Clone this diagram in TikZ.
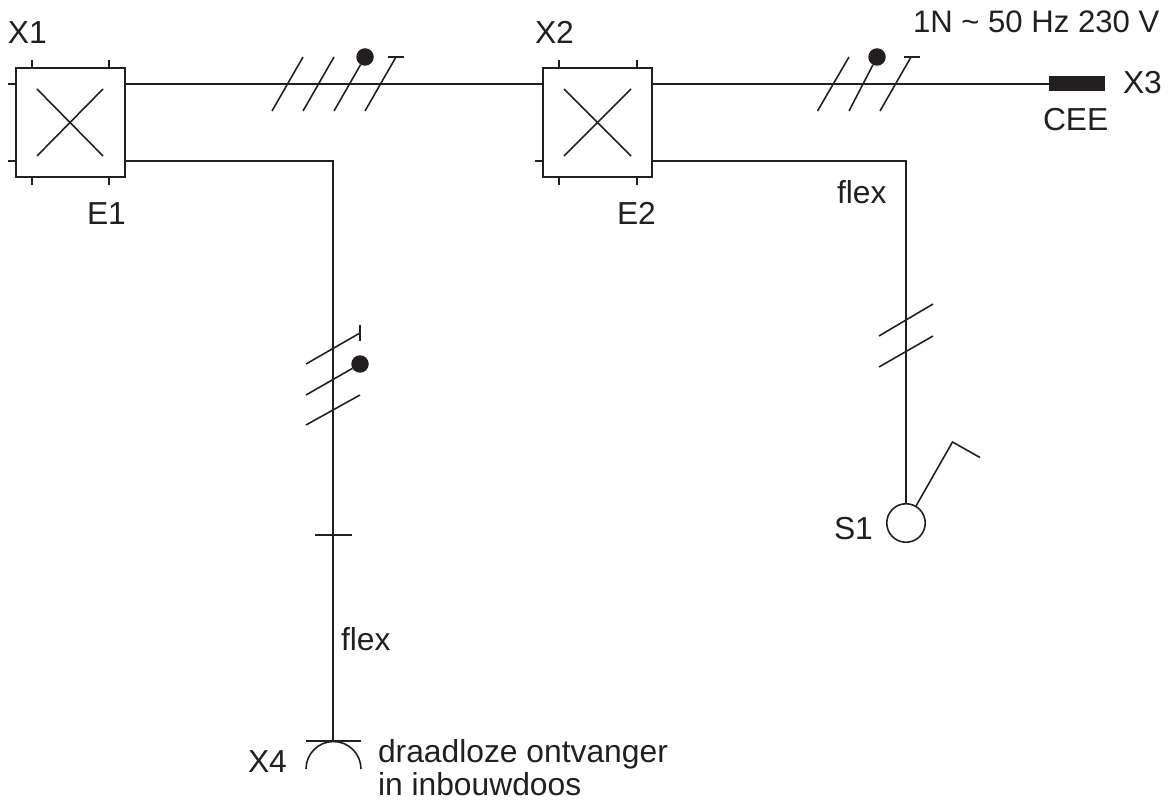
\documentclass[tikz,border=0pt]{standalone}
\usepackage{fontspec}
\setmainfont{Liberation Sans}
\usetikzlibrary{positioning}

\definecolor{inkdark}{HTML}{231F20}

\begin{document}
\begin{tikzpicture}[
    x=0.02cm, y=-0.02cm,
    every node/.style={inner sep=0pt, outer sep=0pt, text=inkdark},
    junction/.style={rectangle, draw=inkdark, line width=1.05pt, minimum size=2.18cm},
    ball/.style={circle, fill=inkdark, minimum size=0.35cm},
    switchbody/.style={circle, draw=inkdark, line width=0.9pt, minimum size=0.77cm},
    plugblock/.style={rectangle, fill=inkdark, minimum width=1.12cm, minimum height=0.3cm},
    tag/.style={anchor=base west, font=\fontsize{18.1pt}{19.6pt}\selectfont},
    wire/.style={draw=inkdark, line width=1.05pt},
    tick/.style={draw=inkdark, line width=0.9pt}
]
\useasboundingbox (0,0) rectangle (1169,803);

% Junction boxes
\node[junction] (E1) at (70.5,122.5) {};
\node[junction] (E2) at (597.5,122.5) {};
\coordinate (E1a) at (124.5,84);
\coordinate (E1b) at (124.5,161);
\coordinate (E2a) at (543,84);
\coordinate (E2c) at (651.5,84);
\coordinate (E2b) at (651.5,161);

% Crosses and stubs of the boxes
\draw[tick] (37,89) -- (103,156);
\draw[tick] (103,89) -- (37,156);
\draw[tick] (564,89) -- (631,156);
\draw[tick] (631,89) -- (564,156);
\foreach \sx in {32,109,559,637} {
    \draw[tick] (\sx,60) -- (\sx,68);
    \draw[tick] (\sx,177) -- (\sx,185);
}
\draw[tick] (8,84) -- (16,84);
\draw[tick] (8,161) -- (16,161);
\draw[tick] (535,161) -- (543,161);

% Other components
\node[plugblock] (X3) at (1077,84) {};
\node[switchbody] (S1) at (906,523) {};
\coordinate (X4t) at (333,741);
\coordinate (X4l) at (306,741);
\coordinate (X4r) at (361,741);
\coordinate (X4a) at (306,769);

% Wires
\draw[wire] (E1a) -- (E2a);
\draw[wire] (E2c) -- (X3);
\draw[wire] (E1b) -| (X4t);
\draw[wire] (E2b) -| (S1);

% Socket X4
\draw[tick] (X4l) -- (X4r);
\draw[tick] (X4a) arc[start angle=180, end angle=0, radius=0.55cm];

% Switch lever
\coordinate (S1k) at (952.5,442);
\coordinate (S1e) at (980,457.5);
\draw[tick] (S1) ++(10,-17) -- (S1k) -- (S1e);

% Conductor marks, cable E1 to E2
\node[ball] (ba) at (365,57) {};
\draw[tick] (272,111) -- (303,57);
\draw[tick] (303,111) -- (334,57);
\draw[tick] (334,111) -- (ba);
\draw[tick] (365,111) -- (396,57);
\draw[tick] (388,57) -- (404,57);

% Conductor marks, cable E2 to X3
\node[ball] (bb) at (877,57) {};
\draw[tick] (817.5,111) -- (849,57);
\draw[tick] (849,111) -- (bb);
\draw[tick] (880,111) -- (911,57);
\draw[tick] (904,57) -- (920,57);

% Conductor marks, cable to X4
\node[ball] (bc) at (360,364) {};
\draw[tick] (306,364) -- (360,333);
\draw[tick] (360,325) -- (360,341);
\draw[tick] (306,395) -- (bc);
\draw[tick] (306,425) -- (360,395);
\draw[tick] (315,535) -- (351.5,535);

% Conductor marks, cable to S1
\draw[tick] (879,336) -- (933,304);
\draw[tick] (879,367) -- (933,336);

% Labels
\node[tag] (lx1) at (8,44) {X1};
\node[tag] (le1) at (87,225) {E1};
\node[tag] (lx2) at (535,44) {X2};
\node[tag] (le2) at (617,225) {E2};
\node[tag, font=\fontsize{17.7pt}{19pt}\selectfont] (lsup) at (913,33) {1N \textasciitilde{} 50 Hz 230 V};
\node[tag] (lx3) at (1123,94) {X3};
\node[tag] (lcee) at (1043,131) {CEE};
\node[tag] (lfa) at (837,204) {flex};
\node[tag] (ls1) at (834,539) {S1};
\node[tag] (lfb) at (341,650) {flex};
\node[tag] (lx4) at (248,772) {X4};
\node[tag] (lrc) at (378,762) {draadloze ontvanger};
\node[tag] (lrd) at (378,795) {in inbouwdoos};

\end{tikzpicture}
\end{document}
